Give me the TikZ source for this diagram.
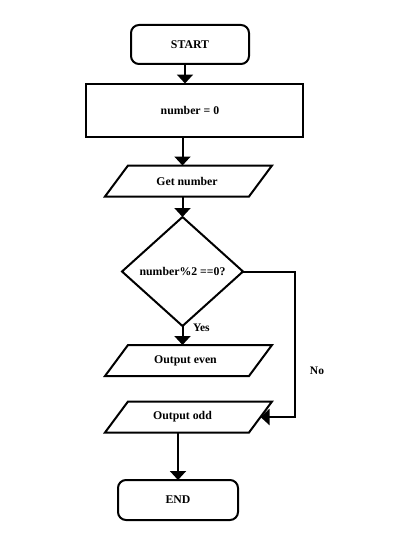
\documentclass[tikz,border=0pt]{standalone}
\usepackage{fontspec}
\setmainfont{Liberation Serif}
\usetikzlibrary{shapes.geometric,arrows.meta,calc}
\begin{document}
\begin{tikzpicture}[x=1pt,y=-1pt,
  every node/.style={font=\fontsize{11.8}{14}\selectfont\bfseries, inner sep=0pt, outer sep=0pt},
  arr/.style={line width=2pt, -{Triangle[width=16pt,length=9pt]}},
  termbox/.style={draw, line width=2pt, rounded corners=8pt, minimum width=118pt, minimum height=39pt},
  procbox/.style={draw, line width=2pt, minimum width=217pt, minimum height=53pt},
  iobox/.style={minimum width=144pt, minimum height=31pt},
  decbox/.style={draw, line width=2pt, diamond, minimum width=121pt, minimum height=109pt},
  lbl/.style={font=\fontsize{11.5}{13}\selectfont\bfseries}
]
\useasboundingbox (0,0) rectangle (400,535);
\fill[white] (0,0) rectangle (400,535);

\node[termbox] (start) at (190,44.5) {START};
\node[procbox] (num) at (194,110) {\hspace*{-8pt}number = 0};
\node[iobox] (get) at (188.5,181) {\hspace*{-3pt}Get number};
\node[decbox] (dia) at (182.5,271.5) {number\%2 ==0?};
\node[iobox] (even) at (188.5,360.5) {\hspace*{-6pt}Output even};
\node[iobox] (odd) at (188.5,417) {\hspace*{-12pt}Output odd};
\node[termbox, minimum width=120pt, minimum height=40pt] (endn) at (178,500) {END};

\foreach \n in {get,even,odd}
  \draw[line width=2pt, line join=miter]
    ([xshift=11.5pt]\n.north west) -- ([xshift=11.5pt]\n.north east)
    -- ([xshift=-11.5pt]\n.south east) -- ([xshift=-11.5pt]\n.south west) -- cycle;

\coordinate (nx) at (295,271.5);

\draw[arr] ([xshift=-5pt]start.south) -- ([xshift=-5pt]start.south |- num.north);
\draw[arr] (num.south -| dia.north) -- (get.north -| dia.north);
\draw[arr] (get.south -| dia.north) -- (dia.north);
\draw[arr] (dia.south) -- (even.north -| dia.south);
\draw[arr] (dia.east) -- (nx) |- (odd.east);
\draw[arr] (odd.south -| endn.north) -- (endn.north);

\node[lbl, anchor=west] (yes) at (193,328) {Yes};
\node[lbl] (no) at (317,371) {No};
\end{tikzpicture}
\end{document}
